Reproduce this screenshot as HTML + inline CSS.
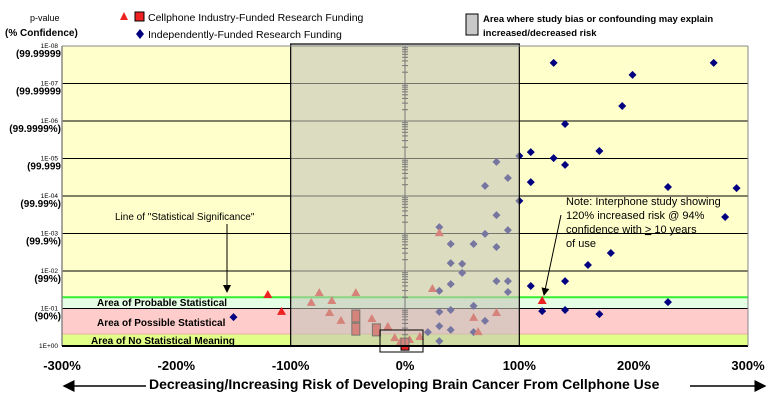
<!DOCTYPE html>
<html><head><meta charset="utf-8">
<style>
html,body{margin:0;padding:0;background:#fff;}
svg{display:block;font-family:"Liberation Sans",Arial,sans-serif;}
</style></head>
<body>
<svg id="chart" width="771" height="402" viewBox="0 0 771 402" xmlns="http://www.w3.org/2000/svg">
</svg>
<script>
// Data: x = % change in risk, L = -log10(p-value)
const indepX = [130,199,270,190,140,110,100,130,170,140,110,230,290,100,280,180,160,110,140,230,120,140,170,
  80,90,70,80,90,70,30,40,60,80,40,50,50,40,80,90,30,90,30,40,70,60,30,40,20,30,60,-150];
const indepL = [7.55,7.23,7.55,6.4,5.92,5.17,5.07,5.01,5.2,4.83,4.37,4.24,4.21,3.87,3.44,2.48,2.16,1.6,1.73,1.17,0.93,0.96,0.85,
  4.91,4.48,4.27,3.49,3.09,2.99,3.17,2.72,2.72,2.64,2.21,2.19,1.95,1.65,1.73,1.73,1.47,1.44,0.91,0.96,0.67,1.07,0.53,0.43,0.37,0.13,0.37,0.77];
const triX = [30,24,-75,-43,-82,-64,-120,-108,-66,-56,-29,-15,60,80,64,120,-9,4,13,-4];
const triL = [3.01,1.52,1.41,1.41,1.15,1.2,1.36,0.91,0.88,0.67,0.72,0.51,0.75,0.88,0.37,1.2,0.21,0.16,0.24,0.1];
const sqX = [-43,-43,-25,0];
const sqL = [0.8,0.45,0.43,0.05];
const xTicks = [-300,-200,-100,0,100,200,300];
const yExp = ["1E+00","1E-01","1E-02","1E-03","1E-04","1E-05","1E-06","1E-07","1E-08"];
const yConf = ["","(90%)","(99%)","(99.9%)","(99.99%)","(99.999","(99.9999%)","(99.99999","(99.99999"];

const svg = document.getElementById('chart');
const NS = 'http://www.w3.org/2000/svg';
const X0=62, X1=748, Y0=46, Y1=346;
function sx(v){return X0+(v+300)/600*(X1-X0);}
function sy(L){return Y1-L/8*(Y1-Y0);}
function mk(tag, attrs, parent){const e=document.createElementNS(NS,tag);for(const k in attrs)e.setAttribute(k,attrs[k]);(parent||svg).appendChild(e);return e;}
function txt(s, attrs){const e=mk('text',attrs);e.textContent=s;return e;}

let e;
e=mk('rect',{x:X0,y:Y0,width:X1-X0,height:Y1-Y0,fill:'#ffffcc'});


e=mk('rect',{x:X0,y:sy(1.3),width:X1-X0,height:sy(1)-sy(1.3),fill:'#e4ffe4'});


e=mk('rect',{x:X0,y:sy(1),width:X1-X0,height:sy(0.32)-sy(1),fill:'#ffcccc'});


e=mk('rect',{x:X0,y:sy(0.32),width:X1-X0,height:Y1-sy(0.32),fill:'#e2ff88'});


mk('line',{x1:X0,x2:X1,y1:sy(1),y2:sy(1),stroke:'#e8a0c8','stroke-width':1});
mk('line',{x1:X0,x2:X1,y1:sy(0.32),y2:sy(0.32),stroke:'#e8b0a0','stroke-width':1});
for(let i=1;i<=7;i++){
  e=mk('line',{x1:X0,x2:X1,y1:sy(i),y2:sy(i),stroke:'#000','stroke-width':1});
  
  
}
e=mk('line',{x1:X0,x2:X1,y1:sy(1.3),y2:sy(1.3),stroke:'#33ee33','stroke-width':2});



for(let i=0;i<indepX.length;i++){
  const x=sx(indepX[i]), y=sy(indepL[i]);
  e=mk('polygon',{points:`${x},${y-4} ${x+4},${y} ${x},${y+4} ${x-4},${y}`,fill:'#000080'});
  
  
}
for(let i=0;i<triX.length;i++){
  const x=sx(triX[i]), y=sy(triL[i]);
  e=mk('polygon',{points:`${x},${y-5} ${x+4.5},${y+3} ${x-4.5},${y+3}`,fill:'#ee2222'});
  
  
}
for(let i=0;i<sqX.length;i++){
  const x=sx(sqX[i]), y=sy(sqL[i]);
  e=mk('rect',{x:x-4,y:y-6,width:8,height:12,fill:'#ee2222',stroke:'#000','stroke-width':1});
  
  
}

e=mk('rect',{x:sx(-100),y:44,width:sx(100)-sx(-100),height:Y1-44,fill:'#c4c4b8','fill-opacity':0.6,stroke:'#000','stroke-width':1.2});


mk('line',{x1:sx(0),x2:sx(0),y1:Y0,y2:Y1,stroke:'#777','stroke-width':1});
for(let d=0;d<8;d++){for(let m=1;m<=9;m++){const y=sy(d+Math.log10(m));mk('line',{x1:sx(0)-3,x2:sx(0)+3,y1:y,y2:y,stroke:'#777','stroke-width':1});}}
mk('rect',{x:380,y:330,width:43,height:22,fill:'none',stroke:'#000','stroke-width':1});

mk('line',{x1:X0,x2:X0,y1:Y0,y2:Y1,stroke:'#888','stroke-width':1.5});
mk('line',{x1:X0,x2:X1,y1:Y1,y2:Y1,stroke:'#000','stroke-width':2});
mk('line',{x1:X1,x2:X1,y1:Y0,y2:Y1,stroke:'#888','stroke-width':1});
mk('line',{x1:X0,x2:X1,y1:Y0,y2:Y0,stroke:'#888','stroke-width':1});

for(let i=0;i<yExp.length;i++){
  e=txt(yExp[i],{x:58,y:sy(i)+2,'font-size':6.5,'text-anchor':'end',fill:'#000'});
  
  
  if(yConf[i]){
    e=txt(yConf[i],{x:61,y:sy(i)+11,'font-size':10,'font-weight':'bold','text-anchor':'end',fill:'#000'});
    
    
  }
}
for(const t of xTicks){
  e=txt(t+'%',{x:sx(t),y:370,'font-size':13,'font-weight':'bold','text-anchor':'middle',fill:'#000'});
  
  
}
</script>
<svg style="position:absolute;left:0;top:0" width="771" height="402" xmlns="http://www.w3.org/2000/svg" font-family="Liberation Sans, Arial, sans-serif">
  <defs><marker id="ah" markerWidth="8" markerHeight="8" refX="7" refY="4" orient="auto"><path d="M0,0 L8,4 L0,8z" fill="#000"/></marker></defs>
  <text x="30" y="21" font-size="9">p-value</text>
  <text x="5" y="36" font-size="10" font-weight="bold">(% Confidence)</text>
  <g>
    <polygon points="124,12 128,20 120,20" fill="#ee2222"/>
    <rect x="135" y="12" width="9" height="9" fill="#ee2222" stroke="#000"/>
    <text x="148" y="21" font-size="10.5">Cellphone Industry-Funded Research Funding</text>
  </g>
  <g>
    <polygon points="140,29 144,34 140,39 136,34" fill="#000080"/>
    <text x="148" y="38" font-size="10.5">Independently-Funded Research Funding</text>
  </g>
  <g>
    <rect x="466" y="14" width="12" height="21" fill="#c8c8c8" stroke="#000"/>
    <text x="483" y="22" font-size="9.5" font-weight="bold">Area where study bias or confounding may explain</text>
    <text x="483" y="36" font-size="9.5" font-weight="bold">increased/decreased risk</text>
  </g>
  <text x="115" y="220" font-size="10">Line of "Statistical Significance"</text>
  <line x1="227" y1="224" x2="227" y2="292" stroke="#000" marker-end="url(#ah)"/>
  <g font-size="11">
    <text x="566" y="205">Note: Interphone study showing</text>
    <text x="566" y="219">120% increased risk @ 94%</text>
    <text x="566" y="233">confidence with <tspan text-decoration="underline">&gt;</tspan> 10 years</text>
    <text x="566" y="247">of use</text>
  </g>
  <line x1="561" y1="215" x2="544" y2="295" stroke="#000" marker-end="url(#ah)"/>
  <text x="97" y="306" font-size="10" font-weight="bold">Area of Probable Statistical</text>
  <text x="97" y="326" font-size="10" font-weight="bold">Area of Possible Statistical</text>
  <text x="91" y="344" font-size="10" font-weight="bold">Area of No Statistical Meaning</text>
  <line x1="146" y1="386" x2="64" y2="386" stroke="#000" stroke-width="1.5" marker-end="url(#ah)"/>
  <text x="149" y="389" font-size="14" font-weight="bold">Decreasing/Increasing Risk of Developing Brain Cancer From Cellphone Use</text>
  <line x1="690" y1="386" x2="765" y2="386" stroke="#000" stroke-width="1.5" marker-end="url(#ah)"/>
</svg>
</body></html>
